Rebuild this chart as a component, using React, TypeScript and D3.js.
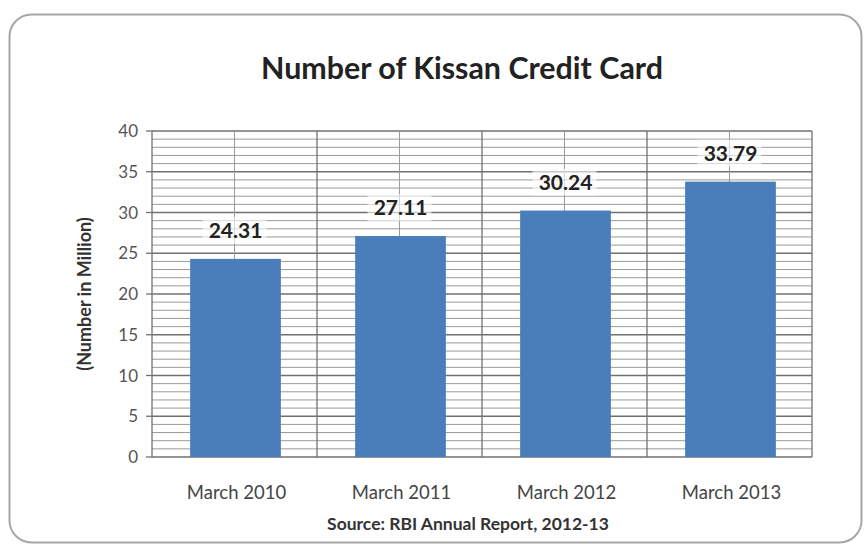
import React from "react";
import * as d3 from "d3";

const categories = ["March 2010", "March 2011", "March 2012", "March 2013"];
const values = [24.31, 27.11, 30.24, 33.79];
const yTicks = [0, 5, 10, 15, 20, 25, 30, 35, 40];
const title = "Number of Kissan Credit Card";
const yTitle = "(Number in Million)";
const source = "Source: RBI Annual Report, 2012-13";

const W = 864, H = 547;
const left = 152, right = 812, top = 131, bottom = 457;
const FONT = "Lato, 'Open Sans', sans-serif";

export default function App() {
  const x = d3.scaleBand<string>().domain(categories).range([left, right]).paddingInner(0).paddingOuter(0);
  const y = d3.scaleLinear().domain([0, 40]).range([bottom, top]);
  const minor = d3.range(0, 41, 1);
  const bw = x.bandwidth();
  const barW = bw * 0.55;

  return (
    <svg width={W} height={H} style={{ position: "absolute", left: 0, top: 0 }}>
      <rect x={0} y={0} width={W} height={H} fill="#fff" />
      <rect x={9.5} y={14.5} width={852} height={528} rx={22} fill="#fff" stroke="#a6a6a6" strokeWidth={2} />
      <text x={462} y={79} textAnchor="middle" fontFamily={FONT} fontWeight="bold" fontSize={30} fill="#222" textLength={402} lengthAdjust="spacingAndGlyphs">{title}</text>
      {/* minor gridlines */}
      {minor.filter(v => v % 5 !== 0).map(v => (
        <line key={"m" + v} x1={left} x2={right} y1={y(v)} y2={y(v)} stroke="#9a9a9a" strokeWidth={1} />
      ))}
      {yTicks.map(v => (
        <line key={"M" + v} x1={left} x2={right} y1={y(v)} y2={y(v)} stroke="#707070" strokeWidth={1.3} />
      ))}
      {categories.map(c => (
        <line key={"vc" + c} x1={x(c)! + bw / 2} x2={x(c)! + bw / 2} y1={top} y2={bottom} stroke="#9a9a9a" strokeWidth={1} />
      ))}
      {categories.map(c => (
        <line key={"vb" + c} x1={x(c)!} x2={x(c)!} y1={top} y2={bottom} stroke="#707070" strokeWidth={1.3} />
      ))}
      <line x1={right} x2={right} y1={top} y2={bottom} stroke="#707070" strokeWidth={1.3} />
      {/* axis ticks */}
      {yTicks.map(v => (
        <line key={"t" + v} x1={left - 6} x2={left} y1={y(v)} y2={y(v)} stroke="#707070" strokeWidth={1.3} />
      ))}
      {yTicks.map(v => (
        <text key={"yl" + v} x={left - 14} y={y(v) + 6} textAnchor="end" fontFamily={FONT} fontSize={17} fill="#555">{v}</text>
      ))}
      {/* bars */}
      {categories.map((c, i) => (
        <rect key={"b" + c} x={x(c)! + (bw - barW) / 2 + 1} y={y(values[i])} width={barW} height={bottom - y(values[i])} fill="#4a7ebb" />
      ))}
      {/* data labels */}
      {categories.map((c, i) => (
        <g key={"dl" + c}>
          <rect x={x(c)! + bw / 2 - 32} y={y(values[i]) - 42} width={64} height={27} fill="#fff" opacity={0.6} />
          <text x={x(c)! + bw / 2 + 1} y={y(values[i]) - 21} textAnchor="middle" fontFamily={FONT} fontWeight="bold" fontSize={21} fill="#222">{values[i].toFixed(2)}</text>
        </g>
      ))}
      {categories.map(c => (
        <text key={"xl" + c} x={x(c)! + bw / 2 + 2} y={499} textAnchor="middle" fontFamily={FONT} fontSize={18.5} fill="#444">{c}</text>
      ))}
      <text transform={`translate(91, ${(top + bottom) / 2}) rotate(-90)`} textAnchor="middle" fontFamily={FONT} fontWeight="bold" fontSize={18} fill="#333">{yTitle}</text>
      <text x={468} y={530} textAnchor="middle" fontFamily={FONT} fontWeight="bold" fontSize={17.5} fill="#333">{source}</text>
    </svg>
  );
}
